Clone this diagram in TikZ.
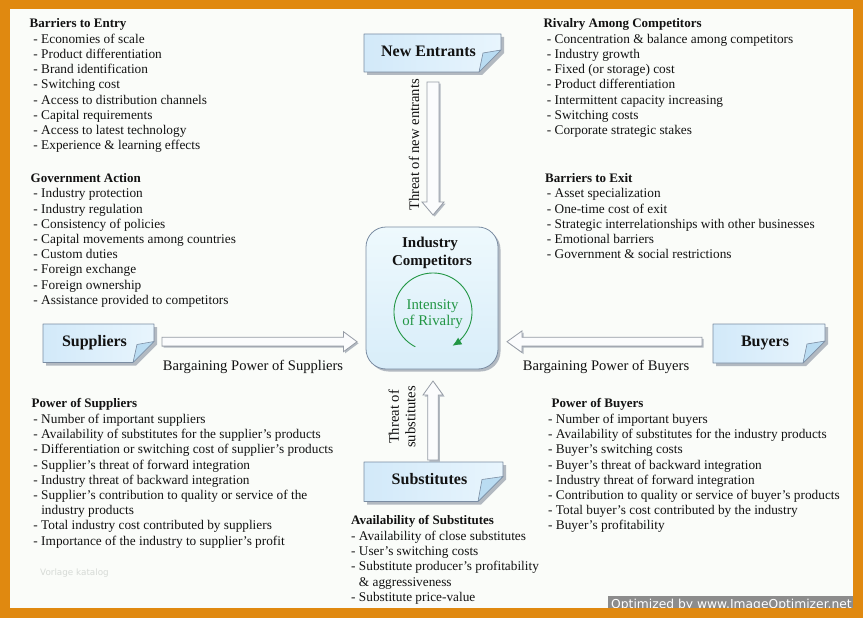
\documentclass[tikz,border=0pt]{standalone}
\usepackage{fontspec}
\setmainfont{Liberation Serif}
\newfontfamily\wmfont{DejaVu Sans}
\usetikzlibrary{calc,arrows.meta}
\definecolor{frameor}{RGB}{224,137,16}
\definecolor{bgc}{RGB}{250,252,249}
\definecolor{txt}{RGB}{18,18,18}
\definecolor{boxA}{RGB}{210,233,249}
\definecolor{boxB}{RGB}{232,245,253}
\definecolor{foldc}{RGB}{186,220,242}
\definecolor{boxline}{RGB}{122,140,162}
\definecolor{icA}{RGB}{238,249,253}
\definecolor{icB}{RGB}{216,237,249}
\definecolor{arrline}{RGB}{150,156,166}
\definecolor{arrfill}{RGB}{251,252,253}
\definecolor{shadowc}{RGB}{178,185,193}
\definecolor{rivalg}{RGB}{34,150,68}
\definecolor{wmgray}{RGB}{140,140,140}
\definecolor{wmtext}{RGB}{214,218,214}
\newcommand\notebox[7]{% name x1 y1 x2 y2 fold label
  \fill[shadowc] (#2+3,#3+3) -- (#4+3,#3+3) -- (#4+3,#5-#6+3) -- (#4-#6+3,#5+3) -- (#2+3,#5+3) -- cycle;
  \draw[notefill] (#2,#3) -- (#4,#3) -- (#4,#5-#6) -- (#4-#6,#5) -- (#2,#5) -- cycle;
  \filldraw[fill=foldc, draw=boxline, line width=0.6pt, line join=round] (#4-#6,#5) -- (#4-#6+4,#5-#6+3) -- (#4,#5-#6) -- cycle;
  \node[boxlabel, anchor=base] (#1) at ({(#2+#4)/2-4},{(#3+#5)/2+3.2}) {#7};
}
\begin{document}
\begin{tikzpicture}[x=1pt,y=-1pt,
  head/.style={font=\fontsize{13}{15}\selectfont\bfseries, text=txt, inner sep=0pt, anchor=base west},
  item/.style={font=\fontsize{13.3}{15}\selectfont, text=txt, inner sep=0pt, anchor=base west},
  boxlabel/.style={font=\fontsize{16}{18}\selectfont\bfseries, text=txt, inner sep=0pt},
  flowlabel/.style={font=\fontsize{14.6}{16.5}\selectfont, text=txt, inner sep=0pt},
  notefill/.style={left color=boxA, right color=boxB, draw=boxline, line width=0.7pt, line join=round},
  barrow/.style={draw=arrline, fill=arrfill, line width=0.8pt, line join=miter,
    preaction={fill=shadowc, transform canvas={shift={(1.6pt,-1.6pt)}}}},
  icbox/.style={draw=boxline, line width=0.8pt, rounded corners=20pt, top color=icA, bottom color=icB,
    preaction={fill=shadowc, rounded corners=20pt, transform canvas={shift={(2.5pt,-2.5pt)}}}},
  iclabel/.style={font=\fontsize{15}{17}\selectfont\bfseries, text=txt, inner sep=0pt, anchor=base},
  rival/.style={font=\fontsize{14.8}{16}\selectfont, text=rivalg, inner sep=0pt, anchor=base}
]
\useasboundingbox (0,0) rectangle (863,618);
\fill[frameor] (0,0) rectangle (863,618);
\fill[bgc] (10,9.3) rectangle (853.3,607.6);

% ---------- text blocks ----------
\node[head] (bte) at (29.5,27.3) {Barriers to Entry};
\foreach \t [count=\i from 0] in {- Economies of scale, - Product differentiation, - Brand identification, - Switching cost, - Access to distribution channels, - Capital requirements, - Access to latest technology, - Experience \& learning effects}
  \node[item] (bte-\i) at (33.3,{43.5+15.15*\i}) {\t};

\node[head] (gov) at (30.5,182.7) {Government Action};
\foreach \t [count=\i from 0] in {- Industry protection, - Industry regulation, - Consistency of policies, - Capital movements among countries, - Custom duties, - Foreign exchange, - Foreign ownership, - Assistance provided to competitors}
  \node[item] (gov-\i) at (33.3,{197.9+15.2*\i}) {\t};

\node[head] (riv) at (543.3,27.3) {Rivalry Among Competitors};
\foreach \t [count=\i from 0] in {- Concentration \& balance among competitors, - Industry growth, - Fixed (or storage) cost, - Product differentiation, - Intermittent capacity increasing, - Switching costs, - Corporate strategic stakes}
  \node[item] (riv-\i) at (546.7,{43.5+15.15*\i}) {\t};

\node[head] (bex) at (545,182.7) {Barriers to Exit};
\foreach \t [count=\i from 0] in {- Asset specialization, - One-time cost of exit, - Strategic interrelationships with other businesses, - Emotional barriers, - Government \& social restrictions}
  \node[item] (bex-\i) at (546.7,{197.9+15.25*\i}) {\t};

\node[head] (pos) at (31.5,407.3) {Power of Suppliers};
\foreach \t [count=\i from 0] in {- Number of important suppliers, - Availability of substitutes for the supplier's products, - Differentiation or switching cost of supplier's products, - Supplier's threat of forward integration, - Industry threat of backward integration, - Supplier's contribution to quality or service of the, \hphantom{- }industry products, - Total industry cost contributed by suppliers, - Importance of the industry to supplier's profit}
  \node[item] (pos-\i) at (33.3,{423.5+15.2*\i}) {\t};

\node[head] (pob) at (551.5,407.3) {Power of Buyers};
\foreach \t [count=\i from 0] in {- Number of important buyers, - Availability of substitutes for the industry products, - Buyer's switching costs, - Buyer's threat of backward integration, - Industry threat of forward integration, - Contribution to quality or service of buyer's products, - Total buyer's cost contributed by the industry, - Buyer's profitability}
  \node[item] (pob-\i) at (548,{423.5+15.2*\i}) {\t};

\node[head] (aos) at (351,524) {Availability of Substitutes};
\foreach \t [count=\i from 0] in {- Availability of close substitutes, - User's switching costs, - Substitute producer's profitability, \hphantom{- }\& aggressiveness, - Substitute price-value}
  \node[item] (aos-\i) at (351,{540+15.4*\i}) {\t};

% ---------- block arrows ----------
\coordinate (a1s) at (433,82);  \coordinate (a1e) at (433,215);
\draw[barrow] ($(a1s)+(-6,0)$) -- ($(a1e)+(-6,-13)$) -- ($(a1e)+(-11,-13)$) -- (a1e) -- ($(a1e)+(11,-13)$) -- ($(a1e)+(6,-13)$) -- ($(a1s)+(6,0)$) -- cycle;
\coordinate (a2s) at (433,460); \coordinate (a2e) at (433,381);
\draw[barrow] ($(a2s)+(-5.3,0)$) -- ($(a2e)+(-5.3,14)$) -- ($(a2e)+(-10,14)$) -- (a2e) -- ($(a2e)+(10,14)$) -- ($(a2e)+(5.3,14)$) -- ($(a2s)+(5.3,0)$) -- cycle;
\coordinate (a3s) at (162,341.7); \coordinate (a3e) at (357,341.7);
\draw[barrow] ($(a3s)+(0,-4.4)$) -- ($(a3e)+(-13.5,-4.4)$) -- ($(a3e)+(-13.5,-10)$) -- (a3e) -- ($(a3e)+(-13.5,10)$) -- ($(a3e)+(-13.5,4.4)$) -- ($(a3s)+(0,4.4)$) -- cycle;
\coordinate (a4s) at (702,341.7); \coordinate (a4e) at (507,341.7);
\draw[barrow] ($(a4s)+(0,-4.4)$) -- ($(a4e)+(15,-4.4)$) -- ($(a4e)+(15,-10.8)$) -- (a4e) -- ($(a4e)+(15,10.8)$) -- ($(a4e)+(15,4.4)$) -- ($(a4s)+(0,4.4)$) -- cycle;

% ---------- boxes ----------
\notebox{ne}{364}{34}{501}{72}{22}{New Entrants}
\notebox{sup}{43}{324}{154}{362.5}{21}{Suppliers}
\notebox{buy}{713}{324}{825}{363}{22}{Buyers}
\notebox{sub}{364}{462}{503}{501.5}{25}{Substitutes}

\node[icbox, minimum width=132pt, minimum height=142pt] (ic) at (432,298) {};
\node[iclabel] (ic1) at (430,247.3) {Industry};
\node[iclabel] (ic2) at (432,265) {Competitors};
\node[rival] (iv1) at (432.5,309.3) {Intensity};
\node[rival] (iv2) at (432.5,325) {of Rivalry};
\draw[rivalg, line width=0.9pt, -{Latex[length=9pt,width=8pt]}]
  plot[domain=117:420, samples=90] ({433+39*cos(\x)},{312+39*sin(\x)});

% ---------- flow labels ----------
\node[flowlabel, rotate=90] (lt1) at (414,145) {Threat of new entrants};
\node[flowlabel, rotate=90, align=center] (lt2) at (402,417) {Threat of\\substitutes};
\node[flowlabel, anchor=base] (lbs) at (253,370) {Bargaining Power of Suppliers};
\node[flowlabel, anchor=base] (lbb) at (606,370) {Bargaining Power of Buyers};

% ---------- watermarks ----------
\node[font=\wmfont\fontsize{8.8}{10}\selectfont, text=wmtext, anchor=base west, inner sep=0pt] (wm1) at (40,575) {Vorlage katalog};
\fill[wmgray] (608,596) rectangle (853.3,610);
\node[font=\wmfont\fontsize{12.3}{13}\selectfont, text=white, anchor=base, inner sep=0pt] (wm2) at (731.5,608.5) {Optimized by www.ImageOptimizer.net};
\fill[frameor] (0,607.6) rectangle (863,618);
\fill[frameor] (853.3,0) rectangle (863,618);
\end{tikzpicture}
\end{document}
